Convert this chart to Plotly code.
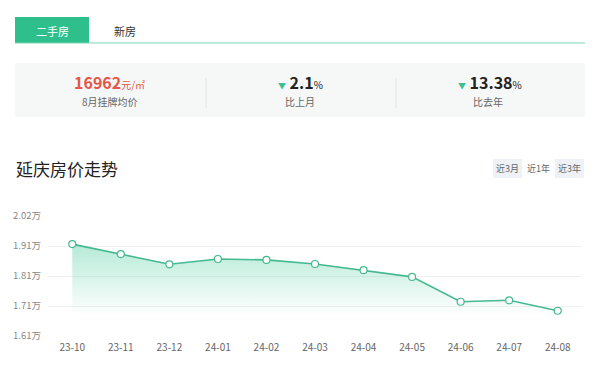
import plotly.graph_objects as go

months = ["23-10", "23-11", "23-12", "24-01", "24-02", "24-03", "24-04", "24-05", "24-06", "24-07", "24-08"]
prices = [19240, 18900, 18550, 18730, 18700, 18560, 18350, 18120, 17270, 17320, 16962]
tick_vals = [16100, 17125, 18150, 19175, 20200]
tick_text = ["1.61万", "1.71万", "1.81万", "1.91万", "2.02万"]

W, H = 600, 366
FONT = "Noto Sans CJK SC"
GREEN = "#2fbf8c"
LINE = "#45b98f"


def px(x):
    return x / W


def py(y):
    return 1 - y / H


fig = go.Figure()
fig.add_trace(go.Scatter(
    x=months, y=prices, mode="lines+markers",
    line=dict(color=LINE, width=1.6),
    marker=dict(size=7, color="white", line=dict(color=LINE, width=1.2)),
    fill="tozeroy",
    fillgradient=dict(type="vertical", start=16800, stop=19250,
                      colorscale=[[0, "rgba(60,200,150,0)"], [1, "rgba(60,200,150,0.38)"]]),
    hoverinfo="x+y", showlegend=False,
))

shapes = [
    dict(type="rect", xref="paper", yref="paper", x0=px(15), x1=px(89), y0=py(43), y1=py(17),
         fillcolor=GREEN, line=dict(width=0), layer="below"),
    dict(type="line", xref="paper", yref="paper", x0=px(15), x1=px(585), y0=py(43), y1=py(43),
         line=dict(color="#7dd5b4", width=1)),
    dict(type="rect", xref="paper", yref="paper", x0=px(15), x1=px(585), y0=py(117), y1=py(63),
         fillcolor="#f6f7f7", line=dict(width=0), layer="below"),
    dict(type="line", xref="paper", yref="paper", x0=px(206), x1=px(206), y0=py(108), y1=py(78),
         line=dict(color="#e2e2e2", width=1)),
    dict(type="line", xref="paper", yref="paper", x0=px(396), x1=px(396), y0=py(108), y1=py(78),
         line=dict(color="#e2e2e2", width=1)),
    dict(type="rect", xref="paper", yref="paper", x0=px(493), x1=px(522), y0=py(178), y1=py(159),
         fillcolor="#eef1f5", line=dict(width=0), layer="below"),
    dict(type="rect", xref="paper", yref="paper", x0=px(555), x1=px(584), y0=py(178), y1=py(159),
         fillcolor="#eef1f5", line=dict(width=0), layer="below"),
]


def ann(x, y, text, size=10, color="#666", xanchor="center"):
    return dict(xref="paper", yref="paper", x=px(x), y=py(y), text=text, showarrow=False,
                xanchor=xanchor, yanchor="middle", font=dict(family=FONT, size=size, color=color))


annotations = [
    ann(52, 31, "二手房", 11, "white"),
    ann(125, 31, "新房", 11, "#333"),
    ann(110, 82, "<b>16962</b><span style='font-size:10px'>元/㎡</span>", 16, "#e4574a"),
    ann(110, 102, "8月挂牌均价", 10, "#666"),
    ann(300, 82, "<span style='color:#3cc08f;font-size:8px'>▼</span> <b>2.1</b><span style='font-size:10px'>%</span>", 16, "#222"),
    ann(300, 102, "比上月", 10, "#666"),
    ann(490, 82, "<span style='color:#3cc08f;font-size:8px'>▼</span> <b>13.38</b><span style='font-size:10px'>%</span>", 16, "#222"),
    ann(488, 102, "比去年", 10, "#666"),
    ann(14, 169, "延庆房价走势", 17, "#222", "left"),
    ann(507.5, 168.5, "近3月", 9, "#666"),
    ann(538.5, 168.5, "近1年", 9, "#666"),
    ann(569.5, 168.5, "近3年", 9, "#666"),
]

fig.update_layout(
    width=W, height=H, autosize=False,
    margin=dict(l=0, r=0, t=0, b=0),
    paper_bgcolor="white", plot_bgcolor="white",
    font=dict(family=FONT, size=10, color="#666"),
    shapes=shapes, annotations=annotations,
    xaxis=dict(domain=[px(48), px(582)], type="category", range=[-0.5, len(months) - 0.5],
               showgrid=False, zeroline=False, showline=False, ticks="", ticklabelstandoff=4,
               tickfont=dict(size=10, color="#666"), automargin=False, fixedrange=True),
    yaxis=dict(domain=[py(336), py(216)], range=[16100, 20200], tickvals=tick_vals, ticktext=tick_text,
               showgrid=True, gridcolor="#f0f0f0", gridwidth=1, zeroline=False, showline=False,
               ticks="", ticklabelstandoff=6, tickfont=dict(size=9.5, color="#888"), automargin=False,
               fixedrange=True),
)

fig.write_html("out.html")
